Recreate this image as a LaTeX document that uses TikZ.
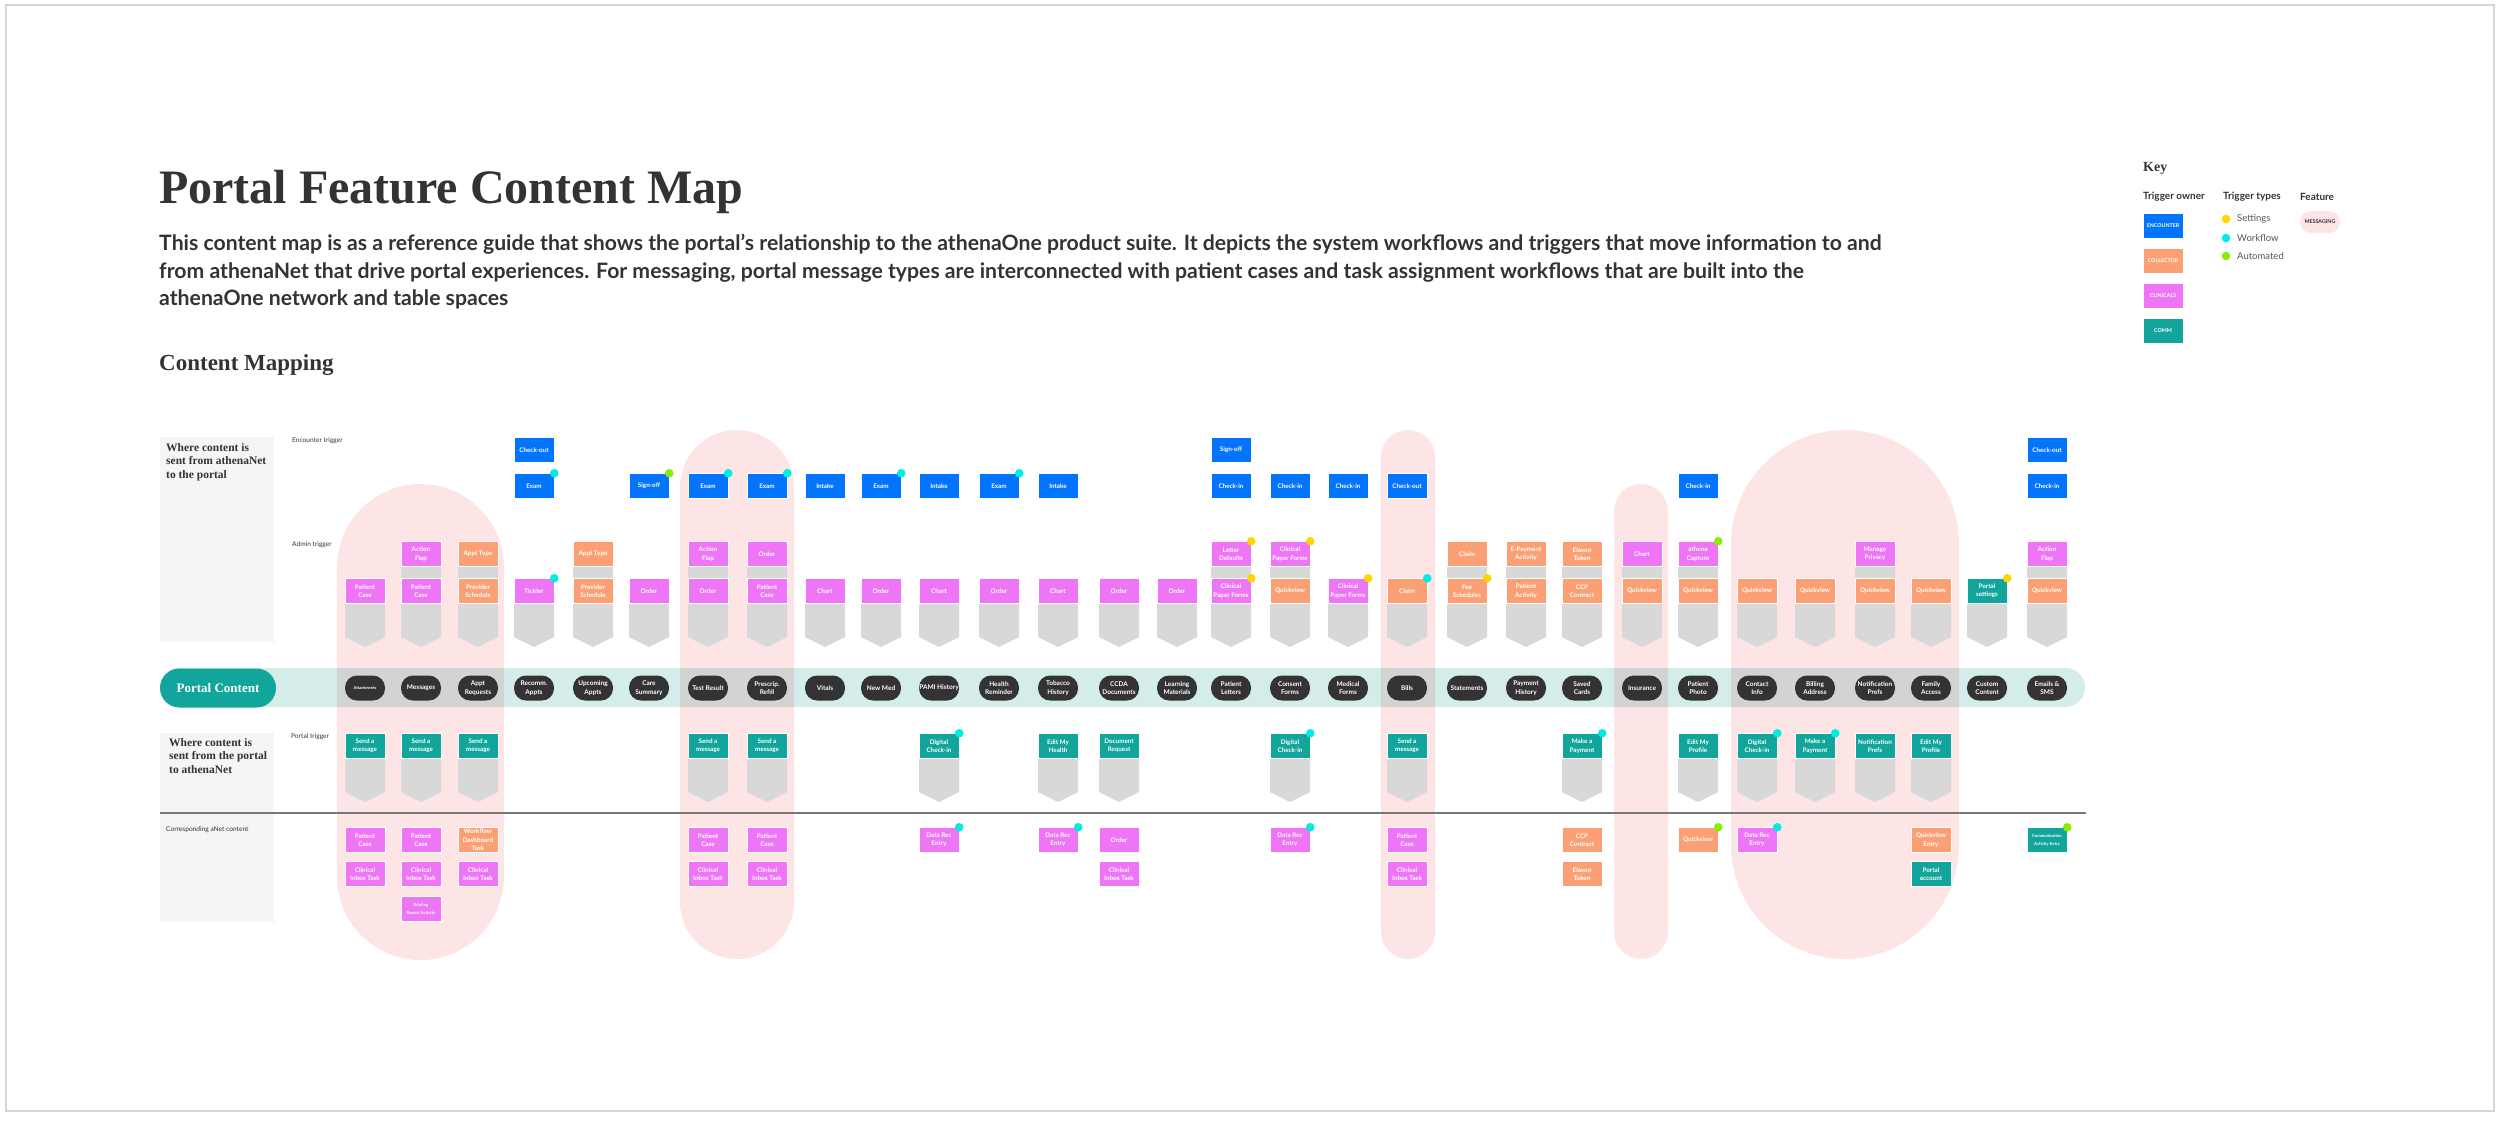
\documentclass[tikz,border=0pt]{standalone}
\usepackage{fontspec}
\setmainfont{Lato}
\newfontfamily\seriffont{Liberation Serif}
\usetikzlibrary{
  positioning,
  calc
}
\definecolor{enccolor}{RGB}{3, 116, 252}
\definecolor{collcolor}{RGB}{250, 160, 116}
\definecolor{clincolor}{RGB}{238, 117, 245}
\definecolor{commcolor}{RGB}{18, 165, 155}
\definecolor{settingcolor}{RGB}{255, 214, 0}
\definecolor{workflowcolor}{RGB}{0, 238, 226}
\definecolor{autocolor}{RGB}{136, 238, 0}
\definecolor{featurecolor}{RGB}{253, 228, 229}
\definecolor{bandcolor}{RGB}{212, 237, 235}
\definecolor{chevroncolor}{RGB}{216, 216, 216}
\definecolor{pillcolor}{RGB}{51, 51, 51}
\definecolor{panelcolor}{RGB}{245, 245, 245}
\definecolor{labelcolor}{RGB}{51, 51, 51}
\definecolor{sublabelcolor}{RGB}{85, 85, 85}
\definecolor{dividercolor}{RGB}{120, 120, 120}
\definecolor{framecolor}{RGB}{214, 214, 214}
\tikzset{
triggerblock/.style={
  draw=white,
  line width=0.5pt,
  minimum width=40pt,
  minimum height=25pt,
  inner sep=0pt,
  align=center,
  text=white,
  font=\fontsize{6.3}{8.4}\selectfont\bfseries
},
tb/.style={
  triggerblock,
  fill=#1color
},
contentpill/.style={
  fill=pillcolor,
  rounded corners=12pt,
  minimum width=40pt,
  minimum height=25pt,
  inner sep=0pt,
  align=center,
  text=white,
  font=\fontsize{6.5}{8.6}\selectfont\bfseries
},
portalpill/.style={
  fill=commcolor,
  rounded corners=19.5pt,
  minimum width=116pt,
  minimum height=39pt,
  text=white,
  font=\seriffont\fontsize{13}{15}\selectfont\bfseries
},
chevron/.style={
  fill=chevroncolor
},
featurebg/.style={
  fill=featurecolor
},
band/.style={
  fill=bandcolor
},
panel/.style={
  fill=panelcolor
},
paneltext/.style={
  anchor=north west,
  inner sep=0pt,
  align=left,
  text=labelcolor,
  font=\seriffont\fontsize{11.5}{13.7}\selectfont\bfseries
},
rowlabel/.style={
  anchor=west,
  inner sep=0pt,
  text=labelcolor,
  font=\fontsize{6.6}{8}\selectfont
},
dot/.style={
  fill=#1color
},
divider/.style={
  draw=dividercolor,
  line width=1.6pt
},
titlelabel/.style={
  anchor=base west,
  inner sep=0pt,
  text=labelcolor,
  font=\seriffont\fontsize{48}{52}\selectfont\bfseries
},
desclabel/.style={
  anchor=north west,
  inner sep=0pt,
  align=left,
  text=labelcolor,
  font=\fontsize{21.2}{27.5}\selectfont\bfseries
},
keytitle/.style={
  anchor=west,
  inner sep=0pt,
  text=labelcolor,
  font=\seriffont\fontsize{14}{16}\selectfont\bfseries
},
keyhead/.style={
  anchor=west,
  inner sep=0pt,
  text=labelcolor,
  font=\fontsize{10}{12}\selectfont\bfseries
},
keylabel/.style={
  anchor=west,
  inner sep=0pt,
  text=sublabelcolor,
  font=\fontsize{9.5}{11}\selectfont
},
keyblock/.style={
  triggerblock,
  fill=#1color,
  font=\fontsize{5.3}{6}\selectfont\bfseries
},
frame/.style={
  draw=framecolor,
  line width=1.5pt
}
}

\begin{document}
\begin{tikzpicture}[x=1pt,y=-1pt]
\useasboundingbox (0,0) rectangle (2500,1120);
\draw[frame] (6,5) rectangle (2494,1111);

\foreach \x [count=\i] in {365,421,478,534,593,649,708,767,825,881,939,999,1058,1119,1177,
  1231,1290,1348,1407,1467,1526,1582,1642,1698,1757,1815,1875,1931,1987,2047}
  \coordinate (c\i) at (\x,0);

\node[titlelabel] (title) at (159,203) {Portal Feature Content Map};
\node[desclabel] (desc) at (159,234) {This content map is as a reference guide that shows the portal’s relationship to the athenaOne product suite. It depicts the system workflows and triggers that move information to and\\
from athenaNet that drive portal experiences. For messaging, portal message types are interconnected with patient cases and task assignment workflows that are built into the\\
athenaOne network and table spaces};
\node[keytitle, font=\seriffont\fontsize{23}{25}\selectfont\bfseries] (mapping) at (159,365) {Content Mapping};

\fill[featurebg, rounded corners=83.5pt] (337,484) rectangle (504,960);
\fill[featurebg, rounded corners=57pt] (680,430) rectangle (794,959);
\fill[featurebg, rounded corners=27pt] (1381,430) rectangle (1435,959);
\fill[featurebg, rounded corners=27pt] (1614,484) rectangle (1668,959);
\fill[featurebg, rounded corners=114pt] (1731,430) rectangle (1959,959);

\begin{scope}[blend mode=multiply]
\fill[band, rounded corners=19.5pt] (160,668) rectangle (2085,707);
\end{scope}

\fill[panel] (160,437) rectangle (274,642);
\fill[panel] (160,733) rectangle (274,812);
\fill[panel] (160,813) rectangle (274,922);
\draw[divider] (160,813) -- (2086,813);

\node[paneltext] (toportal) at (166,443) {Where content is\\sent from athenaNet\\to the portal};
\node[paneltext] (toanet) at (169,738) {Where content is\\sent from the portal\\to athenaNet};
\node[rowlabel] (enclabel) at (292,441) {Encounter trigger};
\node[rowlabel] (adminlabel) at (292,545) {Admin trigger};
\node[rowlabel] (portallabel) at (291,737) {Portal trigger};
\node[rowlabel] (anetlabel) at (166,830) {Corresponding aNet content};

\node[portalpill] (portal) at (218,688) {Portal Content};
\foreach \c/\t in {2/Messages, 3/Appt\\Requests, 4/Recomm.\\Appts, 5/Upcoming\\Appts,
  6/Care\\Summary, 7/Test Result, 8/Prescrip.\\Refill, 9/Vitals, 10/New Med, 11/PAMI History,
  12/Health\\Reminder, 13/Tobacco\\History, 14/CCDA\\Documents, 15/Learning\\Materials,
  16/Patient\\Letters, 17/Consent\\Forms, 18/Medical\\Forms, 19/Bills, 20/Statements,
  21/Payment\\History, 22/Saved\\Cards, 23/Insurance, 24/Patient\\Photo, 25/Contact\\Info,
  26/Billing\\Address, 27/Notification\\Prefs, 28/Family\\Access, 29/Custom\\Content,
  30/Emails \&\\SMS}
  \node[contentpill] (pc-\c) at ($(c\c)+(0,688)$) {\t};
\node[contentpill, font=\fontsize{4}{5}\selectfont\bfseries] (pc-1) at ($(c1)+(0,688)$) {Attachments};

\foreach \c/\top in {1/579, 2/541, 3/541, 4/579, 5/541, 6/579, 7/541, 8/541, 9/579, 10/579,
  11/579, 12/579, 13/579, 14/579, 15/579, 16/541, 17/541, 18/579, 19/579, 20/541, 21/541,
  22/541, 23/541, 24/541, 25/579, 26/579, 27/541, 28/579, 29/579, 30/541}
  \fill[chevron] ($(c\c)+(-20,\top)$) -- ($(c\c)+(20,\top)$) -- ($(c\c)+(20,637)$)
    -- ($(c\c)+(0,647)$) -- ($(c\c)+(-20,637)$) -- cycle;
\foreach \c in {1,2,3,7,8,11,13,14,17,19,22,24,25,26,27,28}
  \fill[chevron] ($(c\c)+(-20,733)$) -- ($(c\c)+(20,733)$) -- ($(c\c)+(20,792)$)
    -- ($(c\c)+(0,802)$) -- ($(c\c)+(-20,792)$) -- cycle;

\foreach \c/\y/\k/\t in {4/450/enc/Check-out, 4/486/enc/Exam, 6/486/enc/Sign-off,
  7/486/enc/Exam, 8/486/enc/Exam, 9/486/enc/Intake, 10/486/enc/Exam, 11/486/enc/Intake,
  12/486/enc/Exam, 13/486/enc/Intake, 16/450/enc/Sign-off, 16/486/enc/Check-in,
  17/486/enc/Check-in, 18/486/enc/Check-in, 19/486/enc/Check-out, 24/486/enc/Check-in,
  30/450/enc/Check-out, 30/486/enc/Check-in}
  \node[tb=\k] (t-\c-\y) at ($(c\c)+(0,\y)$) {\t};

\foreach \c/\y/\k/\t in {2/554/clin/Action\\Flap, 3/554/coll/Appt Type, 5/554/coll/Appt Type,
  7/554/clin/Action\\Flap, 8/554/clin/Order, 16/554/clin/Letter\\Defaults,
  17/554/clin/Clinical\\Paper Forms, 20/554/coll/Claim, 21/554/coll/E-Payment\\Activity,
  22/554/coll/Elavon\\Token, 23/554/clin/Chart, 24/554/clin/athena\\Capture,
  27/554/clin/Manage\\Privacy, 30/554/clin/Action\\Flap,
  1/591/clin/Patient\\Case, 2/591/clin/Patient\\Case, 3/591/coll/Provider\\Schedule,
  4/591/clin/Tickler, 5/591/coll/Provider\\Schedule, 6/591/clin/Order, 7/591/clin/Order,
  8/591/clin/Patient\\Case, 9/591/clin/Chart, 10/591/clin/Order, 11/591/clin/Chart,
  12/591/clin/Order, 13/591/clin/Chart, 14/591/clin/Order, 15/591/clin/Order,
  16/591/clin/Clinical\\Paper Forms, 17/591/coll/Quickview, 18/591/clin/Clinical\\Paper Forms,
  19/591/coll/Claim, 20/591/coll/Fee\\Schedules, 21/591/coll/Patient\\Activity,
  22/591/coll/CCP\\Contract, 23/591/coll/Quickview, 24/591/coll/Quickview,
  25/591/coll/Quickview, 26/591/coll/Quickview, 27/591/coll/Quickview, 28/591/coll/Quickview,
  29/591/comm/Portal\\settings, 30/591/coll/Quickview}
  \node[tb=\k] (t-\c-\y) at ($(c\c)+(0,\y)$) {\t};

\foreach \c/\t in {1/Send a\\message, 2/Send a\\message, 3/Send a\\message, 7/Send a\\message,
  8/Send a\\message, 11/Digital\\Check-in, 13/Edit My\\Health, 14/Document\\Request,
  17/Digital\\Check-in, 19/Send a\\message, 22/Make a\\Payment, 24/Edit My\\Profile,
  25/Digital\\Check-in, 26/Make a\\Payment, 27/Notification\\Prefs, 28/Edit My\\Profile}
  \node[tb=comm] (t-\c-746) at ($(c\c)+(0,746)$) {\t};

\foreach \c/\y/\k/\t in {1/840/clin/Patient\\Case, 2/840/clin/Patient\\Case,
  3/840/coll/Workflow\\Dashboard\\Task, 7/840/clin/Patient\\Case, 8/840/clin/Patient\\Case,
  11/840/clin/Data Rec\\Entry, 13/840/clin/Data Rec\\Entry, 14/840/clin/Order,
  17/840/clin/Data Rec\\Entry, 19/840/clin/Patient\\Case, 22/840/coll/CCP\\Contract,
  24/840/coll/Quickview, 25/840/clin/Data Rec\\Entry, 28/840/coll/Quickview\\Entry,
  1/874/clin/Clinical\\Inbox Task, 2/874/clin/Clinical\\Inbox Task, 3/874/clin/Clinical\\Inbox Task,
  7/874/clin/Clinical\\Inbox Task, 8/874/clin/Clinical\\Inbox Task, 14/874/clin/Clinical\\Inbox Task,
  19/874/clin/Clinical\\Inbox Task, 22/874/coll/Elavon\\Token, 28/874/comm/Portal\\account}
  \node[tb=\k] (t-\c-\y) at ($(c\c)+(0,\y)$) {\t};
\node[tb=comm, font=\fontsize{4.2}{8.4}\selectfont\bfseries] (t-30-840) at ($(c30)+(0,840)$) {Communication\\Activity Entry};
\node[tb=clin, font=\fontsize{4.2}{8.4}\selectfont\bfseries] (t-2-909) at ($(c2)+(0,909)$) {Briefing\\Recent Activity};

\foreach \n/\d in {t-4-486/workflow, t-7-486/workflow, t-8-486/workflow, t-10-486/workflow,
  t-12-486/workflow, t-4-591/workflow, t-19-591/workflow, t-11-746/workflow, t-17-746/workflow,
  t-22-746/workflow, t-25-746/workflow, t-26-746/workflow, t-11-840/workflow, t-13-840/workflow,
  t-17-840/workflow, t-25-840/workflow, t-16-554/setting, t-17-554/setting, t-16-591/setting,
  t-18-591/setting, t-20-591/setting, t-29-591/setting, t-6-486/auto, t-24-554/auto,
  t-24-840/auto, t-30-840/auto}
  \fill[dot=\d] (\n.north east) circle (4.3pt);

\node[keytitle] (key) at (2143,168) {Key};
\node[keyhead] (ownerhead) at (2143,197) {Trigger owner};
\node[keyhead] (typehead) at (2223,197) {Trigger types};
\node[keyhead] (featurehead) at (2300,197) {Feature};
\node[keyblock=enc] (k-enc) at (2163,226) {ENCOUNTER};
\node[keyblock=coll] (k-coll) at (2163,261) {COLLECTOR};
\node[keyblock=clin] (k-clin) at (2163,296) {CLINICALS};
\node[keyblock=comm] (k-comm) at (2163,331) {COMM};
\fill[dot=setting] (2226,219) circle (4.3pt);
\fill[dot=workflow] (2226,238) circle (4.3pt);
\fill[dot=auto] (2226,256) circle (4.3pt);
\node[keylabel] (k-setting) at (2237,219) {Settings};
\node[keylabel] (k-workflow) at (2237,238) {Workflow};
\node[keylabel] (k-auto) at (2237,256) {Automated};
\node[featurebg, rounded corners=11pt, minimum width=40pt, minimum height=22pt, inner sep=0pt,
  text=labelcolor, font=\fontsize{5.3}{6}\selectfont\bfseries] (k-feature) at (2320,222) {MESSAGING};
\end{tikzpicture}
\end{document}
